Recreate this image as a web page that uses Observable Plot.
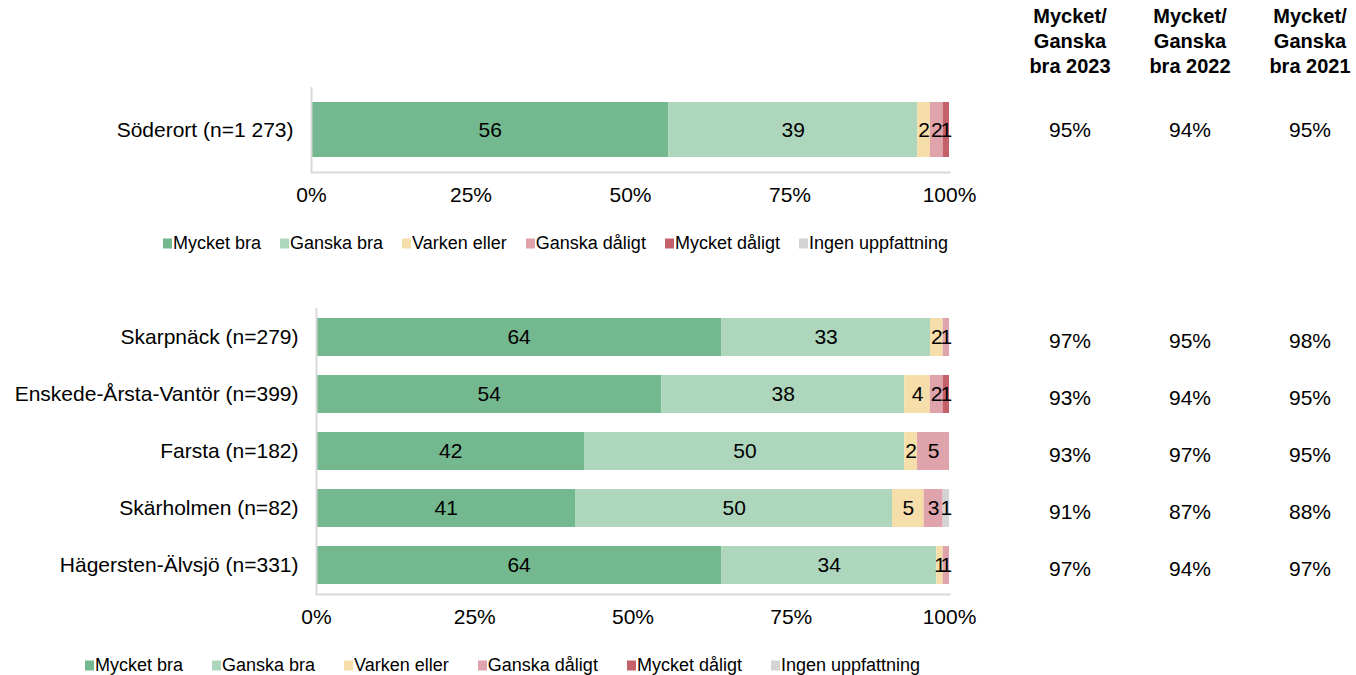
<!DOCTYPE html>
<html>
<head>
<meta charset="utf-8">
<script src="https://cdn.jsdelivr.net/npm/d3@7"></script>
<script src="https://cdn.jsdelivr.net/npm/@observablehq/plot@0.6"></script>
<style>
  body { margin: 0; background: #fff; font-family: 'Liberation Sans', Arial, sans-serif; color: #000; }
  #page { position: relative; width: 1356px; height: 675px; overflow: hidden; }
  .abs { position: absolute; }
  .hdr { position: absolute; top: 4px; width: 120px; text-align: center; font-weight: bold; font-size: 20px; line-height: 25px; }
  .val { position: absolute; width: 120px; text-align: center; font-size: 21px; transform: translateY(-50%); }
  .legend { position: absolute; display: flex; align-items: center; font-size: 18px; white-space: nowrap; transform: translateY(-50%); }
  .legend .item { display: flex; align-items: center; }
  .legend .sw { width: 9px; height: 10px; margin-right: 1px; }
</style>
</head>
<body>
<div id="page"></div>
<script>
// ---- data ----
const responses = ["Mycket bra", "Ganska bra", "Varken eller", "Ganska dåligt", "Mycket dåligt", "Ingen uppfattning"];
const colors = ["#74B88F", "#ADD6BC", "#F5DEA9", "#DEA3AB", "#C5616B", "#D4D4D4"];
const topAreas = ["Söderort (n=1 273)"];
const bottomAreas = ["Skarpnäck (n=279)", "Enskede-Årsta-Vantör (n=399)", "Farsta (n=182)", "Skärholmen (n=82)", "Hägersten-Älvsjö (n=331)"];
const areas = topAreas.concat(bottomAreas);
const mycketBra    = [56, 64, 54, 42, 41, 64];
const ganskaBra    = [39, 33, 38, 50, 50, 34];
const varkenEller  = [2, 2, 4, 2, 5, 1];
const ganskaDaligt = [2, 1, 2, 5, 3, 1];
const mycketDaligt = [1, 0, 1, 0, 0, 0];
const ingen        = [0, 0, 0, 0, 1, 0];
const series = [mycketBra, ganskaBra, varkenEller, ganskaDaligt, mycketDaligt, ingen];
const headers = ["Mycket/<br>Ganska<br>bra 2023", "Mycket/<br>Ganska<br>bra 2022", "Mycket/<br>Ganska<br>bra 2021"];
const good2023 = [95, 97, 93, 93, 91, 97];
const good2022 = [94, 95, 94, 97, 87, 94];
const good2021 = [95, 98, 95, 95, 88, 97];
const xTicks = [0, 0.25, 0.5, 0.75, 1];

const rows = areas.flatMap((a, i) => series.map((s, j) => ({area: a, response: responses[j], value: s[i]})))
  .filter(d => d.value > 0);

const page = document.getElementById("page");
const fontFamily = "'Liberation Sans', Arial, sans-serif";

function makeChart(domain, opts) {
  const data = rows.filter(d => domain.includes(d.area));
  const stack = o => Plot.stackX({x: "value", y: "area", z: "response", order: responses, offset: "normalize", ...o});
  return Plot.plot({
    width: 960,
    height: opts.height,
    marginLeft: opts.marginLeft,
    marginRight: 11,
    marginTop: opts.marginTop,
    marginBottom: opts.marginBottom,
    style: {fontFamily, fontSize: "21px", color: "#000", background: "none", overflow: "visible"},
    x: {domain: [0, 1], label: null},
    y: {domain, label: null, paddingInner: opts.paddingInner, paddingOuter: opts.paddingOuter},
    color: {domain: responses, range: colors},
    marks: [
      Plot.barX(data, stack({fill: "response"})),
      Plot.text(data, stack({text: d => String(d.value), fill: "#000", fontSize: 21})),
      Plot.ruleX([0], {stroke: "#d9d9d9", strokeWidth: 2}),
      Plot.frame({anchor: "bottom", stroke: "#d9d9d9", strokeWidth: 2}),
      Plot.axisX({ticks: xTicks, tickFormat: d3.format(".0%"), tickSize: 0, tickPadding: 15, fontSize: 21, label: null}),
      Plot.axisY({tickSize: 0, tickPadding: 18, fontSize: 21, label: null})
    ]
  });
}

function place(el, left, top) {
  const wrap = document.createElement("div");
  wrap.className = "abs";
  wrap.style.left = left + "px";
  wrap.style.top = top + "px";
  wrap.appendChild(el);
  page.appendChild(wrap);
}

place(makeChart(topAreas, {height: 212, marginLeft: 311, marginTop: 87, marginBottom: 40, paddingInner: 0, paddingOuter: 0.27}), 0, 0);
place(makeChart(bottomAreas, {height: 354, marginLeft: 316, marginTop: 28, marginBottom: 40, paddingInner: 0.333, paddingOuter: 0.175}), 0, 280);

// legends
function legend(left, top, gap) {
  const lg = document.createElement("div");
  lg.className = "legend";
  lg.style.left = left + "px";
  lg.style.top = top + "px";
  lg.style.gap = gap + "px";
  responses.forEach((r, i) => {
    const it = document.createElement("div");
    it.className = "item";
    it.innerHTML = `<span class="sw" style="background:${colors[i]}"></span><span>${r}</span>`;
    lg.appendChild(it);
  });
  page.appendChild(lg);
}
legend(163, 243, 19);
legend(85, 665, 29);

// right-hand table
const colX = [1010, 1130, 1250];
headers.forEach((h, k) => {
  const d = document.createElement("div");
  d.className = "hdr";
  d.style.left = colX[k] + "px";
  d.innerHTML = h;
  page.appendChild(d);
});
const rowY = [130, 341, 398, 455, 512, 569];
[good2023, good2022, good2021].forEach((vals, k) => {
  vals.forEach((v, i) => {
    const d = document.createElement("div");
    d.className = "val";
    d.style.left = colX[k] + "px";
    d.style.top = rowY[i] + "px";
    d.textContent = v + "%";
    page.appendChild(d);
  });
});
</script>
</body>
</html>
